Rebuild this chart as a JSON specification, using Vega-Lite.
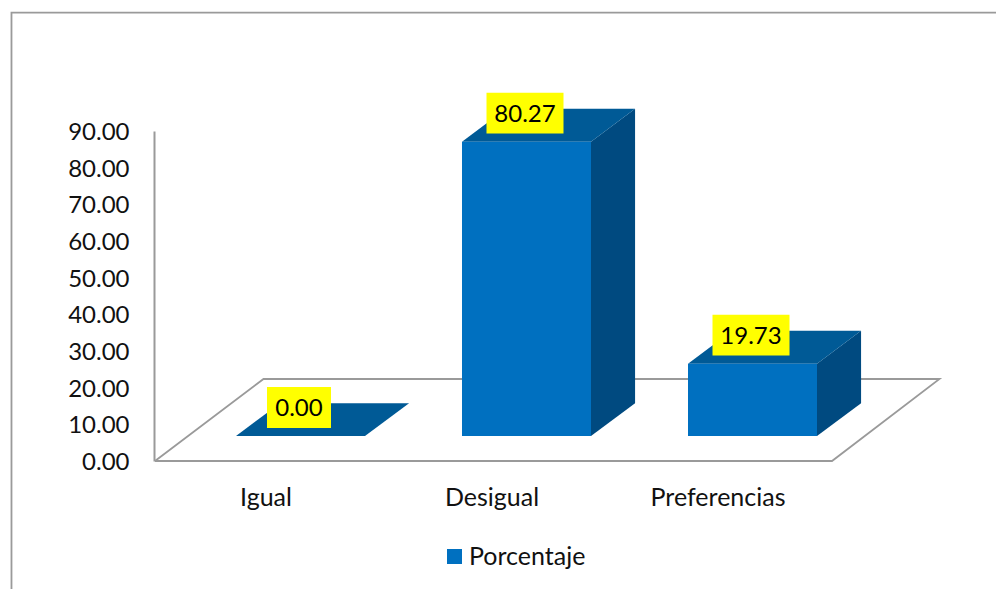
{
"$schema":"https://vega.github.io/schema/vega-lite/v6.json",
"width":842,"height":330,
"autosize":"none",
"padding":{"left":154,"top":131,"right":0,"bottom":128},
"background":"white",
"config":{"view":{"stroke":null},"font":"Lato","axis":{"labelOverlap":false,"labelSeparation":-30}},
"datasets":{
"barras":[
{"categoria":"Igual","orden":0,"porcentaje":0.00,"serie":"Porcentaje"},
{"categoria":"Desigual","orden":1,"porcentaje":80.27,"serie":"Porcentaje"},
{"categoria":"Preferencias","orden":2,"porcentaje":19.73,"serie":"Porcentaje"}
],
"estructura":[
{"parte":"marco","paso":0,"px":-1.2788,"py":-34.9},
{"parte":"marco","paso":1,"px":-1.2788,"py":122.3},
{"parte":"marco","paso":2,"px":3.0774,"py":122.3},
{"parte":"piso","paso":0,"px":-0.6438,"py":0},
{"parte":"piso","paso":1,"px":2.3518,"py":0},
{"parte":"piso","paso":2,"px":2.8274,"py":22.36},
{"parte":"piso","paso":3,"px":-0.1637,"py":22.36},
{"parte":"piso","paso":4,"px":-0.6438,"py":0}
]},
"layer":[
{"data":{"name":"estructura"},
 "mark":{"type":"line","color":"#9a9a9a","strokeWidth":1.8},
 "encoding":{
  "x":{"field":"px","type":"quantitative","scale":{"domain":[-0.6482,3.0774],"nice":false,"zero":false},"axis":null},
  "y":{"field":"py","type":"quantitative","scale":{"domain":[0,90],"nice":false},
   "axis":{"title":null,"values":[0,10,20,30,40,50,60,70,80,90],"tickCount":10,"format":".2f","ticks":false,"grid":false,"domainColor":"#9a9a9a","domainWidth":2,"labelPadding":25,"labelFontSize":24,"labelColor":"#111111","labelFont":"Lato","labelOffset":1.5,"labelOverlap":false,"labelFlush":false,"labelBound":false}},
  "detail":{"field":"parte"},
  "order":{"field":"paso"}}},
{"data":{"name":"barras"},
 "transform":[
  {"calculate":"[0,1]","as":"t"},{"flatten":["t"]},
  {"calculate":"datum.orden+0.2854+datum.t*0.195","as":"xs"},
  {"calculate":"6.82+datum.t*8.95","as":"yb"},
  {"calculate":"datum.yb+datum.porcentaje","as":"yt"}],
 "mark":{"type":"area","color":"#004A80","interpolate":"linear"},
 "encoding":{
  "x":{"field":"xs","type":"quantitative"},
  "y":{"field":"yt","type":"quantitative"},
  "y2":{"field":"yb"},
  "detail":{"field":"categoria"}}},
{"data":{"name":"barras"},
 "transform":[
  {"calculate":"[0,1]","as":"t"},{"flatten":["t"]},
  {"calculate":"datum.orden-0.2854+datum.t*0.195","as":"xa"},
  {"calculate":"datum.orden+0.2854+datum.t*0.195","as":"xb"},
  {"calculate":"6.82+datum.t*8.95+datum.porcentaje","as":"yt"}],
 "mark":{"type":"area","orient":"horizontal","color":"#005A96","interpolate":"linear"},
 "encoding":{
  "y":{"field":"yt","type":"quantitative"},
  "x":{"field":"xa","type":"quantitative"},
  "x2":{"field":"xb"},
  "detail":{"field":"categoria"}}},
{"data":{"name":"barras"},
 "transform":[
  {"calculate":"datum.orden-0.2854","as":"x0"},
  {"calculate":"datum.orden+0.2854","as":"x1"},
  {"calculate":"6.82","as":"yb"},
  {"calculate":"6.82+datum.porcentaje","as":"yt"}],
 "mark":{"type":"rect"},
 "encoding":{
  "x":{"field":"x0","type":"quantitative"},
  "x2":{"field":"x1"},
  "y":{"field":"yb","type":"quantitative"},
  "y2":{"field":"yt"},
  "color":{"field":"serie","type":"nominal","scale":{"domain":["Porcentaje"],"range":["#0070C0"]},
   "legend":{"title":null,"orient":"none","legendX":288,"legendY":413,"symbolType":"square","symbolSize":225,"labelFontSize":25,"labelColor":"#111111","labelFont":"Lato","symbolStrokeWidth":0,"padding":0,"labelOffset":2}}}},
{"data":{"name":"barras"},
 "transform":[{"calculate":"6.82+datum.porcentaje","as":"yt"}],
 "mark":{"type":"point","filled":true,"opacity":1,"color":"#FFFF00","size":1600,"xOffset":-1.5,"yOffset":-28.5},
 "encoding":{
  "x":{"field":"orden","type":"quantitative"},
  "y":{"field":"yt","type":"quantitative"},
  "shape":{"condition":{"test":"datum.porcentaje==0","value":"M-1.6,-1.02L1.6,-1.02L1.6,1.02L-1.6,1.02Z"},"value":"M-1.925,-1.02L1.925,-1.02L1.925,1.02L-1.925,1.02Z"}}},
{"data":{"name":"barras"},
 "transform":[{"calculate":"6.82+datum.porcentaje","as":"yt"}],
 "mark":{"type":"text","fontSize":24,"color":"#000000","font":"Lato","baseline":"middle","xOffset":-1.5,"yOffset":-26.5},
 "encoding":{
  "x":{"field":"orden","type":"quantitative"},
  "y":{"field":"yt","type":"quantitative"},
  "text":{"field":"porcentaje","type":"quantitative","format":".2f"}}},
{"data":{"name":"barras"},
 "mark":{"type":"text","fontSize":25,"color":"#111111","font":"Lato","baseline":"middle","xOffset":-34.5,"yOffset":37},
 "encoding":{
  "x":{"field":"orden","type":"quantitative"},
  "y":{"datum":0,"type":"quantitative"},
  "text":{"field":"categoria"}}}
]
}
